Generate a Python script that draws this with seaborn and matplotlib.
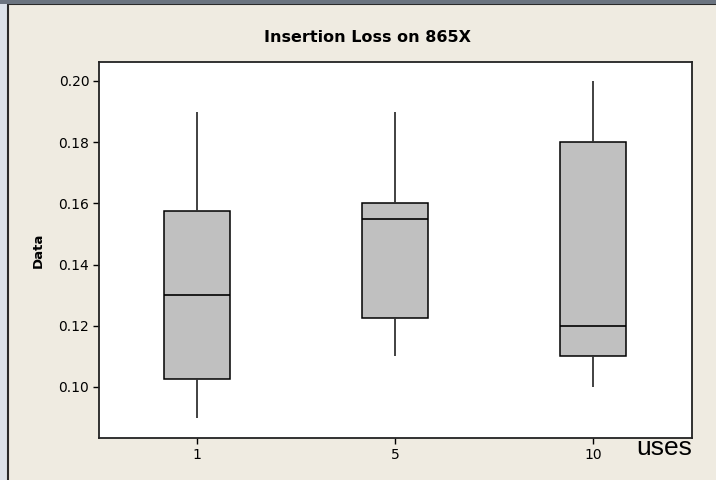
import matplotlib
matplotlib.use("Agg")
import matplotlib.pyplot as plt
from matplotlib.patches import Rectangle
import pandas as pd
import seaborn as sns

# five-number summaries (min, Q1, median, Q3, max)
uses = ["1", "5", "10"]
loss_1 = [0.090, 0.1025, 0.130, 0.1575, 0.190]
loss_5 = [0.110, 0.1225, 0.155, 0.160, 0.190]
loss_10 = [0.100, 0.110, 0.120, 0.180, 0.200]
y_ticks = [0.10, 0.12, 0.14, 0.16, 0.18, 0.20]

df = pd.DataFrame({
    "uses": ["1"] * len(loss_1) + ["5"] * len(loss_5) + ["10"] * len(loss_10),
    "Data": loss_1 + loss_5 + loss_10,
})

sns.set_style("white")
plt.rcParams["font.family"] = ["DejaVu Sans"]
plt.rcParams["text.color"] = "black"
plt.rcParams["xtick.color"] = "black"
plt.rcParams["ytick.color"] = "black"
plt.rcParams["axes.labelcolor"] = "black"

fig = plt.figure(figsize=(7.16, 4.8), dpi=100, facecolor="#DCE2EA")
# cream panel behind the chart
fig.patches.append(Rectangle((8 / 716, -0.01), 1.0, 476 / 480 + 0.01,
                             transform=fig.transFigure, facecolor="#EFEBE1",
                             edgecolor="#2a2a2a", linewidth=1.5, zorder=-5))
fig.patches.append(Rectangle((0, 476 / 480), 1.0, 4 / 480,
                             transform=fig.transFigure, facecolor="#6b7480",
                             edgecolor="none", zorder=-5))

ax = fig.add_axes([99 / 716, 42 / 480, 593 / 716, 376 / 480])
ax.set_facecolor("white")

sns.boxplot(data=df, x="uses", y="Data", order=uses, ax=ax,
            color="#C0C0C0", saturation=1, width=0.333, whis=(0, 100),
            showcaps=False, linecolor="black", linewidth=1.1,
            medianprops={"color": "black", "linewidth": 1.2},
            whiskerprops={"color": "#333333", "linewidth": 1.3})

ax.set_ylim(0.0833, 0.2062)
ax.set_xlim(-0.495, 2.5)
ax.set_yticks(y_ticks)
ax.set_yticklabels([f"{t:.2f}" for t in y_ticks])
ax.tick_params(axis="both", direction="out", length=4, width=1,
               color="black", labelsize=10, pad=3, left=True, bottom=True)
for s in ax.spines.values():
    s.set_color("#222222")
    s.set_linewidth(1.3)

ax.set_xlabel("")
ax.set_ylabel("Data", fontsize=9.5, fontweight="bold", labelpad=10)

fig.text(367 / 716, 1 - 37 / 480, "Insertion Loss on 865X", ha="center",
         va="center", fontsize=11.5, fontweight="bold")
fig.text(692 / 716, 1 - 455 / 480, "uses", ha="right", va="baseline",
         fontsize=19, family="Liberation Sans")

fig.savefig("out.png", dpi=100, facecolor=fig.get_facecolor())
